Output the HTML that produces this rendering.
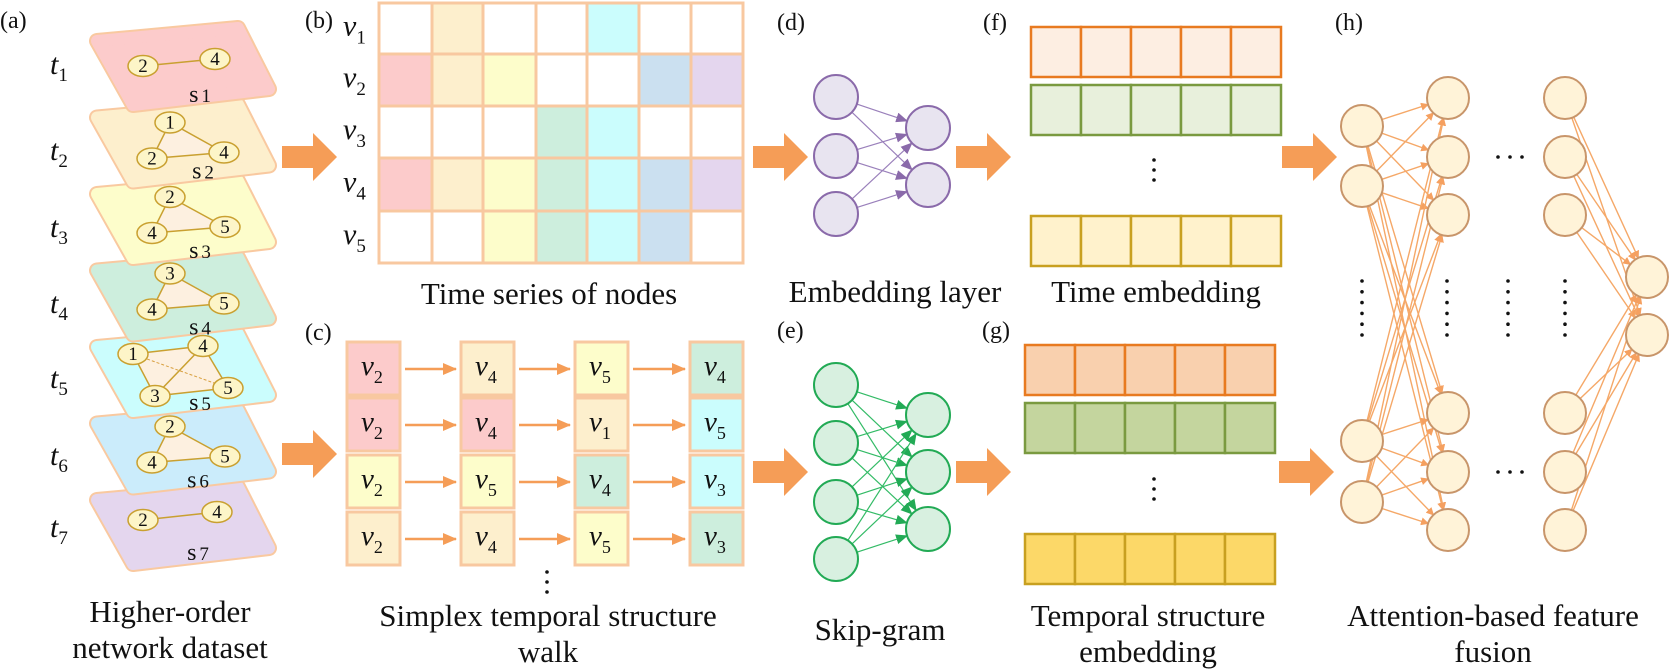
<!DOCTYPE html>
<html><head><meta charset="utf-8"><style>
html,body{margin:0;padding:0;background:#fff;}
svg{display:block;}
svg text{font-family:"Liberation Serif","DejaVu Serif",serif;fill:#111;}
</style></head><body>
<svg id="s" width="1671" height="672" viewBox="0 0 1671 672" xmlns="http://www.w3.org/2000/svg" font-family="Liberation Serif, DejaVu Serif, serif">
<defs>
<marker id="mo" markerWidth="8" markerHeight="8" refX="7" refY="4" orient="auto" markerUnits="userSpaceOnUse"><path d="M0,0 L8,4 L0,8 z" fill="#f5a060"/></marker>
<marker id="mo2" markerWidth="14" markerHeight="12" refX="13" refY="6" orient="auto" markerUnits="userSpaceOnUse"><path d="M0,0 L14,6 L0,12 z" fill="#f59d57"/></marker>
<marker id="mp" markerWidth="12" markerHeight="10" refX="11" refY="5" orient="auto" markerUnits="userSpaceOnUse"><path d="M0,0 L12,5 L0,10 z" fill="#8a6aaa"/></marker>
<marker id="mg" markerWidth="12" markerHeight="10" refX="11" refY="5" orient="auto" markerUnits="userSpaceOnUse"><path d="M0,0 L12,5 L0,10 z" fill="#22aa55"/></marker>
</defs>

<g font-size="24">
<text x="0" y="28">(a)</text>
<text x="305" y="28">(b)</text>
<text x="305" y="340">(c)</text>
<text x="777" y="30">(d)</text>
<text x="777" y="338">(e)</text>
<text x="983" y="30">(f)</text>
<text x="982" y="338">(g)</text>
<text x="1335" y="30">(h)</text>
</g>

<g id="layers"></g>

<g font-size="30">
<text x="50" y="74" font-style="italic">t<tspan font-size="19" dy="7" font-style="normal">1</tspan></text>
<text x="50" y="160" font-style="italic">t<tspan font-size="19" dy="7" font-style="normal">2</tspan></text>
<text x="50" y="237" font-style="italic">t<tspan font-size="19" dy="7" font-style="normal">3</tspan></text>
<text x="50" y="313" font-style="italic">t<tspan font-size="19" dy="7" font-style="normal">4</tspan></text>
<text x="50" y="388" font-style="italic">t<tspan font-size="19" dy="7" font-style="normal">5</tspan></text>
<text x="50" y="465" font-style="italic">t<tspan font-size="19" dy="7" font-style="normal">6</tspan></text>
<text x="50" y="537" font-style="italic">t<tspan font-size="19" dy="7" font-style="normal">7</tspan></text>
</g>

<g id="grid"></g>
<g id="walk"></g>
<g id="nets"></g>
<g id="bars"></g>
<g id="arrows"></g>

<g fill="#111">
<circle cx="547" cy="572" r="1.8"/><circle cx="547" cy="582" r="1.8"/><circle cx="547" cy="592" r="1.8"/>
<circle cx="1154" cy="160" r="1.8"/><circle cx="1154" cy="170" r="1.8"/><circle cx="1154" cy="180" r="1.8"/>
<circle cx="1154" cy="479" r="1.8"/><circle cx="1154" cy="489" r="1.8"/><circle cx="1154" cy="499" r="1.8"/>
</g>
<g id="hdots" fill="#111"></g>

<g font-size="31" text-anchor="middle">
<text x="549" y="304">Time series of nodes</text>
<text x="895" y="302">Embedding layer</text>
<text x="1156" y="302">Time embedding</text>
<text x="170" y="622">Higher-order</text>
<text x="170" y="658">network dataset</text>
<text x="548" y="626">Simplex temporal structure</text>
<text x="548" y="662">walk</text>
<text x="880" y="640">Skip-gram</text>
<text x="1148" y="626">Temporal structure</text>
<text x="1148" y="662">embedding</text>
<text x="1493" y="626">Attention-based feature</text>
<text x="1493" y="662">fusion</text>
</g>
</svg>
<script>
var NS="http://www.w3.org/2000/svg";
function el(p,t,a,txt){var e=document.createElementNS(NS,t);for(var k in a)e.setAttribute(k,a[k]);if(txt!==undefined)e.textContent=txt;document.getElementById(p).appendChild(e);return e;}
var cols=["#fccbcb","#fdefcd","#fdfdcb","#cdeedd","#cbfdfd","#cbecfb","#e4d6ee"];
var L=[
 {n:[[50,29,"2"],[122,22,"4"]],e:[[0,1]],sub:"1",sx:107,sy:59,tri:null},
 {n:[[77,9,"1"],[59,45,"2"],[131,39,"4"]],e:[[0,1],[0,2],[1,2]],sub:"2",sx:110,sy:59,tri:1},
 {n:[[77,7,"2"],[59,43,"4"],[132,37,"5"]],e:[[0,1],[0,2],[1,2]],sub:"3",sx:107,sy:62,tri:1},
 {n:[[77,7,"3"],[59,43,"4"],[131,37,"5"]],e:[[0,1],[0,2],[1,2]],sub:"4",sx:107,sy:62,tri:1},
 {n:[[40,11,"1"],[110,3,"4"],[62,53,"3"],[135,45,"5"]],e:[[0,1],[0,2],[1,2],[1,3],[2,3]],d:[0,3],sub:"5",sx:107,sy:61,tri:2},
 {n:[[77,7,"2"],[59,43,"4"],[132,37,"5"]],e:[[0,1],[0,2],[1,2]],sub:"6",sx:105,sy:62,tri:1},
 {n:[[50,24,"2"],[124,16,"4"]],e:[[0,1]],sub:"7",sx:105,sy:58,tri:null}
];
for(var i=6;i>=0;i--){
 var X=93,Y=37+76.5*i,l=L[i];
 var pts=[[X+4,Y+4],[X+145,Y-9],[X+176,Y+52],[X+40,Y+68]].map(function(p){return p.join(",")}).join(" ");
 el("layers","polygon",{points:pts,fill:"#f9c9a0",stroke:"#f9c9a0","stroke-width":16,"stroke-linejoin":"round"});
 el("layers","polygon",{points:pts,fill:cols[i],stroke:cols[i],"stroke-width":12,"stroke-linejoin":"round"});
 var P=l.n.map(function(n){return [X+n[0],Y+n[1]];});
 if(l.tri){el("layers","polygon",{points:(l.tri==2?[P[0],P[1],P[3],P[2]]:P).map(function(p){return p.join(",")}).join(" "),fill:"#fdf0e0"});}
 l.e.forEach(function(e){el("layers","line",{x1:P[e[0]][0],y1:P[e[0]][1],x2:P[e[1]][0],y2:P[e[1]][1],stroke:"#c9a030","stroke-width":1.5});});
 if(l.d)el("layers","line",{x1:P[0][0],y1:P[0][1],x2:P[3][0],y2:P[3][1],stroke:"#d8a040","stroke-width":1,"stroke-dasharray":"3,2"});
 P.forEach(function(p,j){el("layers","ellipse",{cx:p[0],cy:p[1],rx:15,ry:10.5,fill:"#fdf5c8",stroke:"#c9a030","stroke-width":1.5});
  el("layers","text",{x:p[0],y:p[1]+6,"text-anchor":"middle","font-size":19,fill:"#444"},l.n[j][2]);});
 var t=el("layers","text",{x:X+l.sx,y:Y+l.sy+6,"text-anchor":"middle","font-size":24,fill:"#222"},"s");
 var ts=document.createElementNS(NS,"tspan");ts.setAttribute("font-size","19");ts.setAttribute("dx","3");ts.textContent=l.sub;t.appendChild(ts);
}
var W="#ffffff",pk="#fccbcb",pe="#fdefcd",yl="#fdfdcb",gr="#cdeedd",cy="#cbfdfd",bl="#cbe0f0",pu="#e4d6ee";
var G=[[W,pe,W,W,cy,W,W],[pk,pe,yl,W,W,bl,pu],[W,W,W,gr,cy,W,W],[pk,pe,yl,gr,cy,bl,pu],[W,W,yl,gr,cy,bl,W]];
var gx=[379,432,483,536,587,639,691,743],gy=[3,54,106,158,211,263];
for(var r=0;r<5;r++){for(var c=0;c<7;c++){el("grid","rect",{x:gx[c],y:gy[r],width:gx[c+1]-gx[c],height:gy[r+1]-gy[r],fill:G[r][c],stroke:"#f8c8a0","stroke-width":3});}
 var t=el("grid","text",{x:343,y:(gy[r]+gy[r+1])/2+7,"font-size":30,"font-style":"italic"},"v");
 var ts=document.createElementNS(NS,"tspan");ts.setAttribute("font-size","19");ts.setAttribute("dy","8");ts.setAttribute("font-style","normal");ts.textContent=(r+1);t.appendChild(ts);}
var WK=[[[pk,2],[pe,4],[yl,5],[gr,4]],[[pk,2],[pk,4],[pe,1],[cy,5]],[[yl,2],[yl,5],[gr,4],[cy,3]],[[pe,2],[pe,4],[yl,5],[gr,3]]];
var wx=[347,461,575,690],wy=[342,398,455,512];
for(var r=0;r<4;r++)for(var c=0;c<4;c++){
 el("walk","rect",{x:wx[c],y:wy[r],width:53,height:53,fill:WK[r][c][0],stroke:"#f8c8a0","stroke-width":3});
 var t=el("walk","text",{x:wx[c]+14,y:wy[r]+33,"font-size":29,"font-style":"italic"},"v");
 var ts=document.createElementNS(NS,"tspan");ts.setAttribute("font-size","18");ts.setAttribute("dy","8");ts.setAttribute("font-style","normal");ts.textContent=WK[r][c][1];t.appendChild(ts);
 if(c<3)el("walk","line",{x1:wx[c]+58,y1:wy[r]+27,x2:wx[c+1]-5,y2:wy[r]+27,stroke:"#f59d57","stroke-width":2.5,"marker-end":"url(#mo2)"});
}
function net(A,B,r,stroke,fill,mk,sw){
 A.forEach(function(a){B.forEach(function(b){var dx=b[0]-a[0],dy=b[1]-a[1],d=Math.sqrt(dx*dx+dy*dy);
  el("nets","line",{x1:a[0]+dx/d*r,y1:a[1]+dy/d*r,x2:b[0]-dx/d*r,y2:b[1]-dy/d*r,stroke:stroke,"stroke-width":sw,"marker-end":"url(#"+mk+")"});});});
}
function circ(P,r,stroke,fill,w){P.forEach(function(p){el("nets","circle",{cx:p[0],cy:p[1],r:r,fill:fill,stroke:stroke,"stroke-width":w});});}
var dA=[[836,97],[836,156],[836,214]],dB=[[928,128],[928,185]];
net(dA,dB,22,"#9a80bb","","mp",1.2);circ(dA,22,"#8a6aaa","#e8e4f0",2);circ(dB,22,"#8a6aaa","#e8e4f0",2);
var eA=[[836,385],[836,443],[836,502],[836,559]],eB=[[928,415],[928,472],[928,529]];
net(eA,eB,22,"#33bb66","","mg",1.2);circ(eA,22,"#22aa55","#d8f0e0",2);circ(eB,22,"#22aa55","#d8f0e0",2);
var hy=[98,157,215,413,472,530];
var h1=[[1362,126],[1362,186],[1362,441],[1362,502]],h2=hy.map(function(y){return[1448,y]}),h3=hy.map(function(y){return[1565,y]}),h4=[[1647,277],[1647,335]];
net(h1,h2,21,"#f5a868","","mo",1.4);net(h3,h4,21,"#f5a868","","mo",1.4);
[h1,h2,h3,h4].forEach(function(P){circ(P,21,"#c8956a","#fff3d8",2);});
[1362,1447,1508,1565].forEach(function(x){for(var k=0;k<6;k++)el("hdots","circle",{cx:x,cy:281+k*10.8,r:1.8});});
[157,472].forEach(function(y){for(var k=0;k<3;k++)el("hdots","circle",{cx:1498+k*12,cy:y,r:1.8});});
function bar(x,y,st,fi){for(var k=0;k<5;k++)el("bars","rect",{x:x+k*50,y:y,width:50,height:50,fill:fi,stroke:st,"stroke-width":2.5});}
bar(1031,27,"#e87a20","#fdeee2");bar(1031,85,"#7a9a40","#e8f0dc");bar(1031,216,"#c8a020","#fff2cc");
bar(1025,345,"#e87a20","#f9d0ae");bar(1025,403,"#7a9a40","#c4d59e");bar(1025,534,"#c8a020","#fcd868");
function arr(x,y){el("arrows","path",{d:"M"+x+","+(y-11)+" H"+(x+31)+" V"+(y-24)+" L"+(x+55)+","+y+" L"+(x+31)+","+(y+24)+" V"+(y+11)+" H"+x+" Z",fill:"#f59d57"});}
[[282,157],[282,454],[753,157],[753,472],[956,157],[956,472],[1282,157],[1279,472]].forEach(function(a){arr(a[0],a[1]);});
</script>
</body></html>
